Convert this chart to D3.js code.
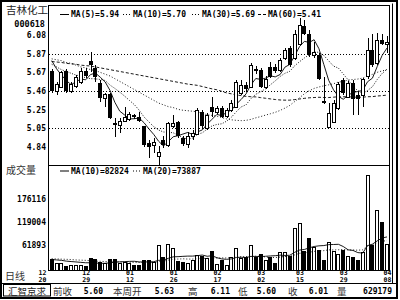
<!DOCTYPE html>
<html>
<head>
<meta charset="utf-8">
<script src="https://cdn.jsdelivr.net/npm/d3@7"></script>
<style>
html, body { margin: 0; padding: 0; background: #fff; }
svg { display: block; }
</style>
</head>
<body>
<svg id="chart" width="400" height="300"></svg>
<script>
// daily candles, 12/20 .. 04/08 (70 trading days visible)
var opens  = [5.69,5.46,5.51,5.69,5.46,5.52,5.56,5.68,5.80,5.72, 5.55,5.39,5.43,5.11,5.09,5.13,5.15,5.20,5.18,5.07,
              4.89,4.87,4.74,4.92,4.87,5.07,5.12,4.94,4.88,4.96, 4.99,5.23,5.05,5.29,5.23,5.27,5.19,5.25,5.29,5.44,
              5.53,5.51,5.71,5.70,5.51,5.73,5.73,5.70,5.83,5.94, 5.83,5.99,6.18,6.10,5.86,5.86,5.35,5.06,5.12,5.28,
              5.59,5.40,5.55,5.42,5.42,5.63,5.92,5.77,6.03,5.99];
var highs  = [5.71,5.56,5.69,5.71,5.56,5.64,5.72,5.72,5.90,5.75, 5.59,5.44,5.44,5.16,5.16,5.29,5.23,5.21,5.23,5.08,
              4.92,4.94,4.85,4.96,5.12,5.20,5.13,4.96,5.01,5.03, 5.27,5.25,5.22,5.40,5.30,5.30,5.27,5.36,5.59,5.59,
              5.56,5.77,5.74,5.72,5.63,5.79,5.76,5.83,5.94,5.96, 6.14,6.27,6.25,6.14,6.01,5.88,5.62,5.33,5.36,5.56,
              5.61,5.57,5.59,5.45,5.61,6.05,6.10,6.11,6.10,6.07];
var lows   = [5.44,5.42,5.50,5.44,5.44,5.50,5.54,5.61,5.67,5.56, 5.34,5.29,5.15,4.95,5.00,5.12,5.13,5.15,5.12,4.84,
              4.72,4.78,4.64,4.83,4.84,5.05,4.94,4.85,4.83,4.92, 4.98,5.05,5.03,5.18,5.21,5.16,5.16,5.23,5.27,5.42,
              5.45,5.50,5.65,5.50,5.49,5.61,5.66,5.67,5.81,5.73, 5.81,5.97,6.08,5.84,5.83,5.59,5.32,5.05,5.11,5.25,
              5.42,5.39,5.20,5.20,5.29,5.60,5.73,5.75,5.97,5.88];
var closes = [5.46,5.54,5.67,5.46,5.54,5.62,5.69,5.63,5.75,5.62, 5.39,5.43,5.16,5.09,5.13,5.18,5.21,5.17,5.13,4.87,
              4.84,4.90,4.79,4.87,5.11,5.11,4.96,4.88,4.96,5.00, 5.25,5.07,5.20,5.23,5.27,5.18,5.25,5.33,5.56,5.53,
              5.49,5.75,5.68,5.51,5.60,5.62,5.69,5.81,5.92,5.75, 6.10,6.20,6.10,5.86,5.90,5.60,5.33,5.22,5.33,5.54,
              5.44,5.55,5.38,5.38,5.60,5.92,5.75,6.03,5.99,6.01];
var volumes = [27300,16600,16600,9900,12400,12400,12400,9900,29000,26600, 20600,16600,28000,28000,18100,19100,18100,12400,12400,24800,
               24800,20600,61300,33000,63800,55400,22300,20600,18100,24800, 37200,34800,30500,47200,14200,24800,12400,31500,53900,29000,
               31500,62100,31500,39700,24800,33000,18100,45400,45400,34800, 104000,117000,47900,80000,57900,49700,24800,68800,47900,39700,
               49700,34800,33000,26000,45400,235000,62000,150000,120000,65000];

// moving averages
var ma5  = [5.80,5.71,5.64,5.58,5.534,5.566,5.596,5.588,5.646,5.662,5.616,5.564,5.470,5.338,5.240,5.198,5.154,5.156,5.164,5.112,
            5.044,4.982,4.906,4.854,4.902,4.956,4.968,4.986,5.004,4.982,5.010,5.032,5.096,5.150,5.204,5.190,5.226,5.252,5.318,5.370,
            5.432,5.532,5.602,5.592,5.606,5.632,5.620,5.646,5.728,5.758,5.854,5.956,6.014,6.002,6.032,5.932,5.758,5.582,5.476,5.404,
            5.372,5.416,5.448,5.458,5.470,5.566,5.606,5.736,5.858,5.940];
var ma10 = [5.76,5.73,5.70,5.68,5.66,5.64,5.63,5.61,5.60,5.598,5.591,5.580,5.529,5.492,5.451,5.407,5.359,5.313,5.251,5.176,
            5.121,5.068,5.031,5.009,5.007,5.000,4.975,4.946,4.929,4.942,4.983,5.000,5.041,5.077,5.093,5.100,5.129,5.174,5.234,5.287,
            5.311,5.379,5.427,5.455,5.488,5.532,5.576,5.624,5.660,5.682,5.743,5.788,5.830,5.865,5.895,5.893,5.857,5.798,5.739,5.718,
            5.652,5.587,5.515,5.467,5.437,5.469,5.511,5.592,5.658,5.705];
var ma30 = [5.82,5.81,5.80,5.78,5.77,5.75,5.73,5.72,5.70,5.69,5.67,5.65,5.63,5.60,5.57,5.54,5.51,5.48,5.45,5.42,
            5.39,5.36,5.33,5.31,5.29,5.28,5.26,5.25,5.245,5.239,5.232,5.216,5.200,5.193,5.184,5.169,5.154,5.144,5.138,5.135,
            5.138,5.149,5.166,5.180,5.196,5.211,5.227,5.248,5.274,5.304,5.346,5.389,5.433,5.466,5.492,5.508,5.521,5.532,5.544,5.562,
            5.569,5.585,5.591,5.596,5.607,5.631,5.648,5.671,5.686,5.702];
var ma60 = [5.79,5.785,5.78,5.77,5.765,5.76,5.75,5.745,5.74,5.73,5.72,5.71,5.70,5.69,5.68,5.67,5.66,5.65,5.64,5.63,
            5.62,5.61,5.60,5.59,5.58,5.57,5.56,5.55,5.54,5.533,5.526,5.513,5.500,5.487,5.477,5.460,5.442,5.432,5.419,5.413,
            5.404,5.400,5.398,5.390,5.383,5.376,5.369,5.364,5.362,5.362,5.368,5.375,5.382,5.388,5.391,5.394,5.391,5.391,5.395,5.400,
            5.400,5.400,5.396,5.394,5.395,5.400,5.401,5.408,5.412,5.418];
var vma10 = [26000,25000,24000,22000,21000,20000,19000,18000,18000,17300,16600,16600,17800,19600,20200,20800,21400,21700,20000,19800,
             20200,20600,24000,24500,29000,32700,33100,33900,34500,34500,35700,37100,34100,35500,30500,27500,26500,27600,31100,31600,
             31000,33700,33800,33100,34100,34900,35500,36900,36100,36600,43900,49400,51000,55000,58400,60000,60700,63000,63300,63800,
             58300,50100,48600,43200,42000,60500,64200,72400,79600,82100];
var vma20 = [28000,27500,27000,26500,26000,25000,24500,24000,23000,22000,21500,21000,20500,20000,20000,19500,19000,19000,18800,18600,
             18400,18600,20900,22000,24600,26700,27200,27800,27200,27100,28000,28900,29000,30000,29800,30100,29800,30700,32800,33000,
             33300,35400,33900,34300,32300,31200,31000,32200,33600,34100,37400,41500,42400,44100,46200,47500,48100,50000,49700,50200,
             51100,49700,49800,49100,50200,60300,62500,67700,71400,72900];

var priceTicks = [6.08, 5.87, 5.67, 5.46, 5.25, 5.05, 4.84];
var gridTicks = [5.87, 5.46, 5.05];
var volTicks = [176116, 119004, 61893];
var dateTickIdx = [-2, 7, 16, 25, 34, 43, 51, 60, 69];
var dateTickMonth = ["12","12","01","01","02","03","03","03","04"];
var dateTickDay = ["20","29","12","26","17","02","15","29","08"];

var legendPrice = [{name:"MA(5)=5.94", dash:null}, {name:"MA(10)=5.70", dash:"1,2"},
                   {name:"MA(30)=5.69", dash:"1,2"}, {name:"MA(60)=5.41", dash:"3,2"}];
var legendVol = [{name:"MA(10)=82824", dash:null}, {name:"MA(20)=73887", dash:"1,2"}];
var footer = [["前收","5.60"],["本周开","5.63"],["高","6.11"],["低","5.60"],["收","6.01"],["量","629179"]];

var mono = "'DejaVu Sans Mono', monospace";
var cjk = "'Noto Sans CJK SC', sans-serif";

var svg = d3.select("#chart");
var L = 48, R = 389, T = 5, SEP = 165, B = 270;

var x = d3.scaleLinear().domain([0, 69]).range([51.7, 387]);
var y = d3.scaleLinear().domain([4.643, 6.417]).range([SEP, T]);
var yv = d3.scaleLinear().domain([0, 260700]).range([B, SEP]);

// frames
svg.append("rect").attr("x", 1).attr("y", 1).attr("width", 396).attr("height", 297)
  .attr("fill", "none").attr("stroke", "#000").attr("stroke-width", 2);
svg.append("path").attr("d", "M392.5,3.5V283").attr("stroke", "#000").attr("fill", "none");
svg.append("rect").attr("x", L + 0.5).attr("y", T + 0.5).attr("width", R - L).attr("height", B - T)
  .attr("fill", "none").attr("stroke", "#000");
svg.append("line").attr("x1", L).attr("x2", R).attr("y1", SEP + 0.5).attr("y2", SEP + 0.5).attr("stroke", "#000");
svg.append("line").attr("x1", 0).attr("x2", 397).attr("y1", 283.5).attr("y2", 283.5).attr("stroke", "#000");

// grid
svg.selectAll(".grid").data(gridTicks).enter().append("line")
  .attr("x1", L + 1).attr("x2", R)
  .attr("y1", function(d){ return Math.round(y(d)) + 0.5; })
  .attr("y2", function(d){ return Math.round(y(d)) + 0.5; })
  .attr("stroke", "#000").attr("stroke-dasharray", "1,2");

// axes
var ay = svg.append("g").attr("transform", "translate(46,0)")
  .call(d3.axisLeft(y).tickValues(priceTicks).tickSize(0).tickPadding(0).tickFormat(d3.format(".2f")));
var av = svg.append("g").attr("transform", "translate(46,0)")
  .call(d3.axisLeft(yv).tickValues(volTicks).tickSize(0).tickPadding(0).tickFormat(d3.format("d")));
[ay, av].forEach(function(g){
  g.select(".domain").remove();
  g.selectAll("text").attr("font-family", mono).attr("font-weight", "bold").attr("font-size", 8).attr("fill", "#000");
});

// date axis: month on top row, day below
var ax = svg.append("g").attr("transform", "translate(0," + B + ")")
  .call(d3.axisBottom(x).tickValues(dateTickIdx).tickSize(0).tickPadding(0)
    .tickFormat(function(d, i){ return dateTickMonth[i]; }));
ax.select(".domain").remove();
ax.selectAll(".tick text").attr("y", 5).attr("dy", null)
  .attr("font-family", mono).attr("font-weight", "bold").attr("font-size", 6.5).attr("fill", "#000");
var ax2 = svg.append("g").attr("transform", "translate(0," + (B + 6.5) + ")")
  .call(d3.axisBottom(x).tickValues(dateTickIdx).tickSize(0).tickPadding(0)
    .tickFormat(function(d, i){ return dateTickDay[i]; }));
ax2.select(".domain").remove();
ax2.selectAll(".tick text").attr("y", 5).attr("dy", null)
  .attr("font-family", mono).attr("font-weight", "bold").attr("font-size", 6.5).attr("fill", "#000");

// MA lines
var plot = svg.append("g");
function maLine(arr, dash, yy) {
  var line = d3.line().x(function(d, i){ return x(i); }).y(function(d){ return yy(d); });
  plot.append("path").datum(arr).attr("d", line).attr("fill", "none")
    .attr("stroke", "#000").attr("stroke-width", 0.9)
    .attr("stroke-dasharray", dash);
}
maLine(ma60, "3,2", y);
maLine(ma30, "1,2", y);
maLine(ma10, "1,1.5", y);
maLine(ma5, null, y);

// candles
var idx = d3.range(opens.length);
var up = function(i){ return closes[i] >= opens[i]; };
var cx = function(i){ return Math.round(x(i)); };
plot.selectAll(".wick").data(idx).enter().append("line")
  .attr("x1", function(i){ return cx(i) + 0.5; }).attr("x2", function(i){ return cx(i) + 0.5; })
  .attr("y1", function(i){ return Math.round(y(highs[i])); })
  .attr("y2", function(i){ return Math.round(y(lows[i])); })
  .attr("stroke", "#000");
plot.selectAll(".body").data(idx).enter().append("rect")
  .attr("x", function(i){ return up(i) ? cx(i) - 1.5 : cx(i) - 2; })
  .attr("y", function(i){
    var t = Math.round(y(Math.max(opens[i], closes[i])));
    return up(i) ? t + 0.5 : t;
  })
  .attr("width", function(i){ return up(i) ? 3 : 4; })
  .attr("height", function(i){
    var h = Math.round(y(Math.min(opens[i], closes[i]))) - Math.round(y(Math.max(opens[i], closes[i])));
    return Math.max(h, 1);
  })
  .attr("fill", function(i){ return up(i) ? "#fff" : "#000"; })
  .attr("stroke", function(i){ return up(i) ? "#000" : "none"; });

// volume
plot.selectAll(".vol").data(idx).enter().append("rect")
  .attr("x", function(i){ return up(i) ? cx(i) - 1.5 : cx(i) - 2; })
  .attr("y", function(i){ return Math.round(yv(volumes[i])) + (up(i) ? 0.5 : 0); })
  .attr("width", function(i){ return up(i) ? 3 : 4; })
  .attr("height", function(i){ return B - Math.round(yv(volumes[i])); })
  .attr("fill", function(i){ return up(i) ? "#fff" : "#000"; })
  .attr("stroke", function(i){ return up(i) ? "#000" : "none"; });
maLine(vma20, "1,2", yv);
maLine(vma10, null, yv);

// legends
var legX = [[60, 71], [123, 133], [192, 202], [258, 268]];
legendPrice.forEach(function(d, i){
  svg.append("line").attr("x1", legX[i][0]).attr("x2", legX[i][1] - 2).attr("y1", 14.5).attr("y2", 14.5)
    .attr("stroke", "#000").attr("stroke-dasharray", d.dash);
  svg.append("text").attr("x", legX[i][1]).attr("y", 17).text(d.name)
    .attr("font-family", mono).attr("font-weight", "bold").attr("font-size", 8);
});
var legVX = [[60, 71], [133, 143]];
legendVol.forEach(function(d, i){
  svg.append("line").attr("x1", legVX[i][0]).attr("x2", legVX[i][1] - 2).attr("y1", 171).attr("y2", 171)
    .attr("stroke", "#000").attr("stroke-dasharray", d.dash);
  svg.append("text").attr("x", legVX[i][1]).attr("y", 174).text(d.name)
    .attr("font-family", mono).attr("font-weight", "bold").attr("font-size", 8);
});

// left labels
svg.append("text").attr("x", 27).attr("y", 14).attr("text-anchor", "middle").text("吉林化工")
  .attr("font-family", cjk).attr("font-size", 10.5).attr("fill", "#222");
svg.append("text").attr("x", 45).attr("y", 26.5).attr("text-anchor", "end").text("000618")
  .attr("font-family", mono).attr("font-weight", "bold").attr("font-size", 8.5);
svg.append("text").attr("x", 6).attr("y", 174).text("成交量")
  .attr("font-family", cjk).attr("font-size", 10).attr("fill", "#333");
svg.append("text").attr("x", 5).attr("y", 280).text("日线")
  .attr("font-family", cjk).attr("font-size", 10).attr("fill", "#333");

// footer
svg.append("rect").attr("x", 3.5).attr("y", 284.5).attr("width", 47).attr("height", 11.5)
  .attr("fill", "none").attr("stroke", "#000");
svg.append("text").attr("x", 27).attr("y", 295).attr("text-anchor", "middle").text("汇智京求")
  .attr("font-family", cjk).attr("font-size", 9.5).attr("fill", "#222");
var footX = [[53, 103], [113, 174], [188, 230], [238, 276], [288, 328], [337, 392]];
footer.forEach(function(d, i){
  svg.append("text").attr("x", footX[i][0]).attr("y", 295).text(d[0])
    .attr("font-family", cjk).attr("font-size", 9.5).attr("fill", "#333");
  svg.append("text").attr("x", footX[i][1]).attr("y", 294).attr("text-anchor", "end").text(d[1])
    .attr("font-family", mono).attr("font-weight", "bold").attr("font-size", 8);
});
</script>
</body>
</html>
